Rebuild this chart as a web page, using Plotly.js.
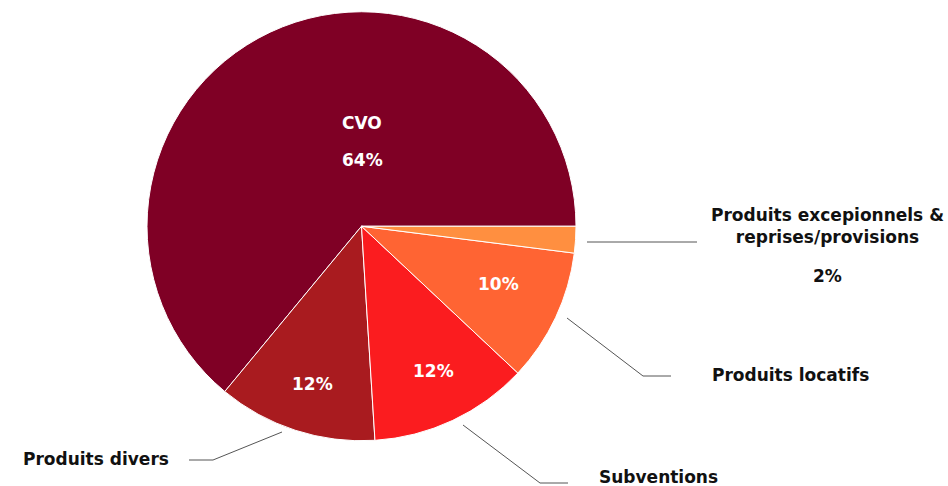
<!DOCTYPE html>
<html>
<head>
<meta charset="utf-8">
<script src="https://cdn.plot.ly/plotly-3.0.1.min.js"></script>
<style>html,body{margin:0;padding:0;background:#fff;}#chart{width:948px;height:486px;}</style>
</head>
<body>
<div id="chart"></div>
<script>
var labels = ["CVO", "Produits divers", "Subventions", "Produits locatifs", "Produits excepionnels &<br>reprises/provisions"];
var values = [64, 12, 12, 10, 2];
var colors = ["#7f0025", "#a91b1f", "#fb1c1f", "#ff6433", "#ff8f40"];
var pctText = values.map(function(v){ return v + "%"; });

var W = 948, H = 486;
function px(x){ return x / W; }
function py(y){ return 1 - y / H; }

var trace = {
  type: "pie",
  labels: labels,
  values: values,
  sort: false,
  direction: "counterclockwise",
  rotation: 219.6,
  marker: {colors: colors, line: {color: "#ffffff", width: 1}},
  textinfo: "none",
  hoverinfo: "label+percent",
  showlegend: false,
  domain: {x: [px(147), px(576)], y: [py(441), py(11.5)]}
};

var lineStyle = {color: "#555555", width: 1};
var shapes = [
  {type: "path", xref: "paper", yref: "paper", line: lineStyle,
   path: "M" + px(282) + "," + py(432) + " L" + px(213) + "," + py(460) + " L" + px(189) + "," + py(460)},
  {type: "path", xref: "paper", yref: "paper", line: lineStyle,
   path: "M" + px(463) + "," + py(425) + " L" + px(540) + "," + py(483) + " L" + px(568) + "," + py(483)},
  {type: "path", xref: "paper", yref: "paper", line: lineStyle,
   path: "M" + px(567) + "," + py(318) + " L" + px(643) + "," + py(376) + " L" + px(671) + "," + py(376)},
  {type: "path", xref: "paper", yref: "paper", line: lineStyle,
   path: "M" + px(587) + "," + py(242) + " L" + px(697) + "," + py(242)}
];

var outFont = {family: "DejaVu Sans", size: 17, color: "#111111", weight: "bold"};
var inFont = {family: "DejaVu Sans", size: 17, color: "#ffffff", weight: "bold"};
function ann(text, x, y, font){
  return {text: text, x: px(x), y: py(y), xref: "paper", yref: "paper", showarrow: false,
          xanchor: "center", yanchor: "middle", font: font || outFont, align: "center"};
}
var annotations = [
  ann(labels[0], 362, 123, inFont),
  ann(pctText[0], 362, 160, inFont),
  ann(pctText[1], 312, 384, inFont),
  ann(pctText[2], 433, 371, inFont),
  ann(pctText[3], 499, 284, inFont),
  ann(labels[1], 96, 459),
  ann(labels[2], 658, 477),
  ann(labels[3], 790, 375),
  ann(labels[4], 827, 226),
  ann(pctText[4], 827, 276)
];

var layout = {
  width: W, height: H,
  margin: {l: 0, r: 0, t: 0, b: 0},
  paper_bgcolor: "#ffffff",
  plot_bgcolor: "#ffffff",
  shapes: shapes,
  annotations: annotations,
  showlegend: false
};

Plotly.newPlot("chart", [trace], layout, {displayModeBar: false, staticPlot: true});
</script>
</body>
</html>
